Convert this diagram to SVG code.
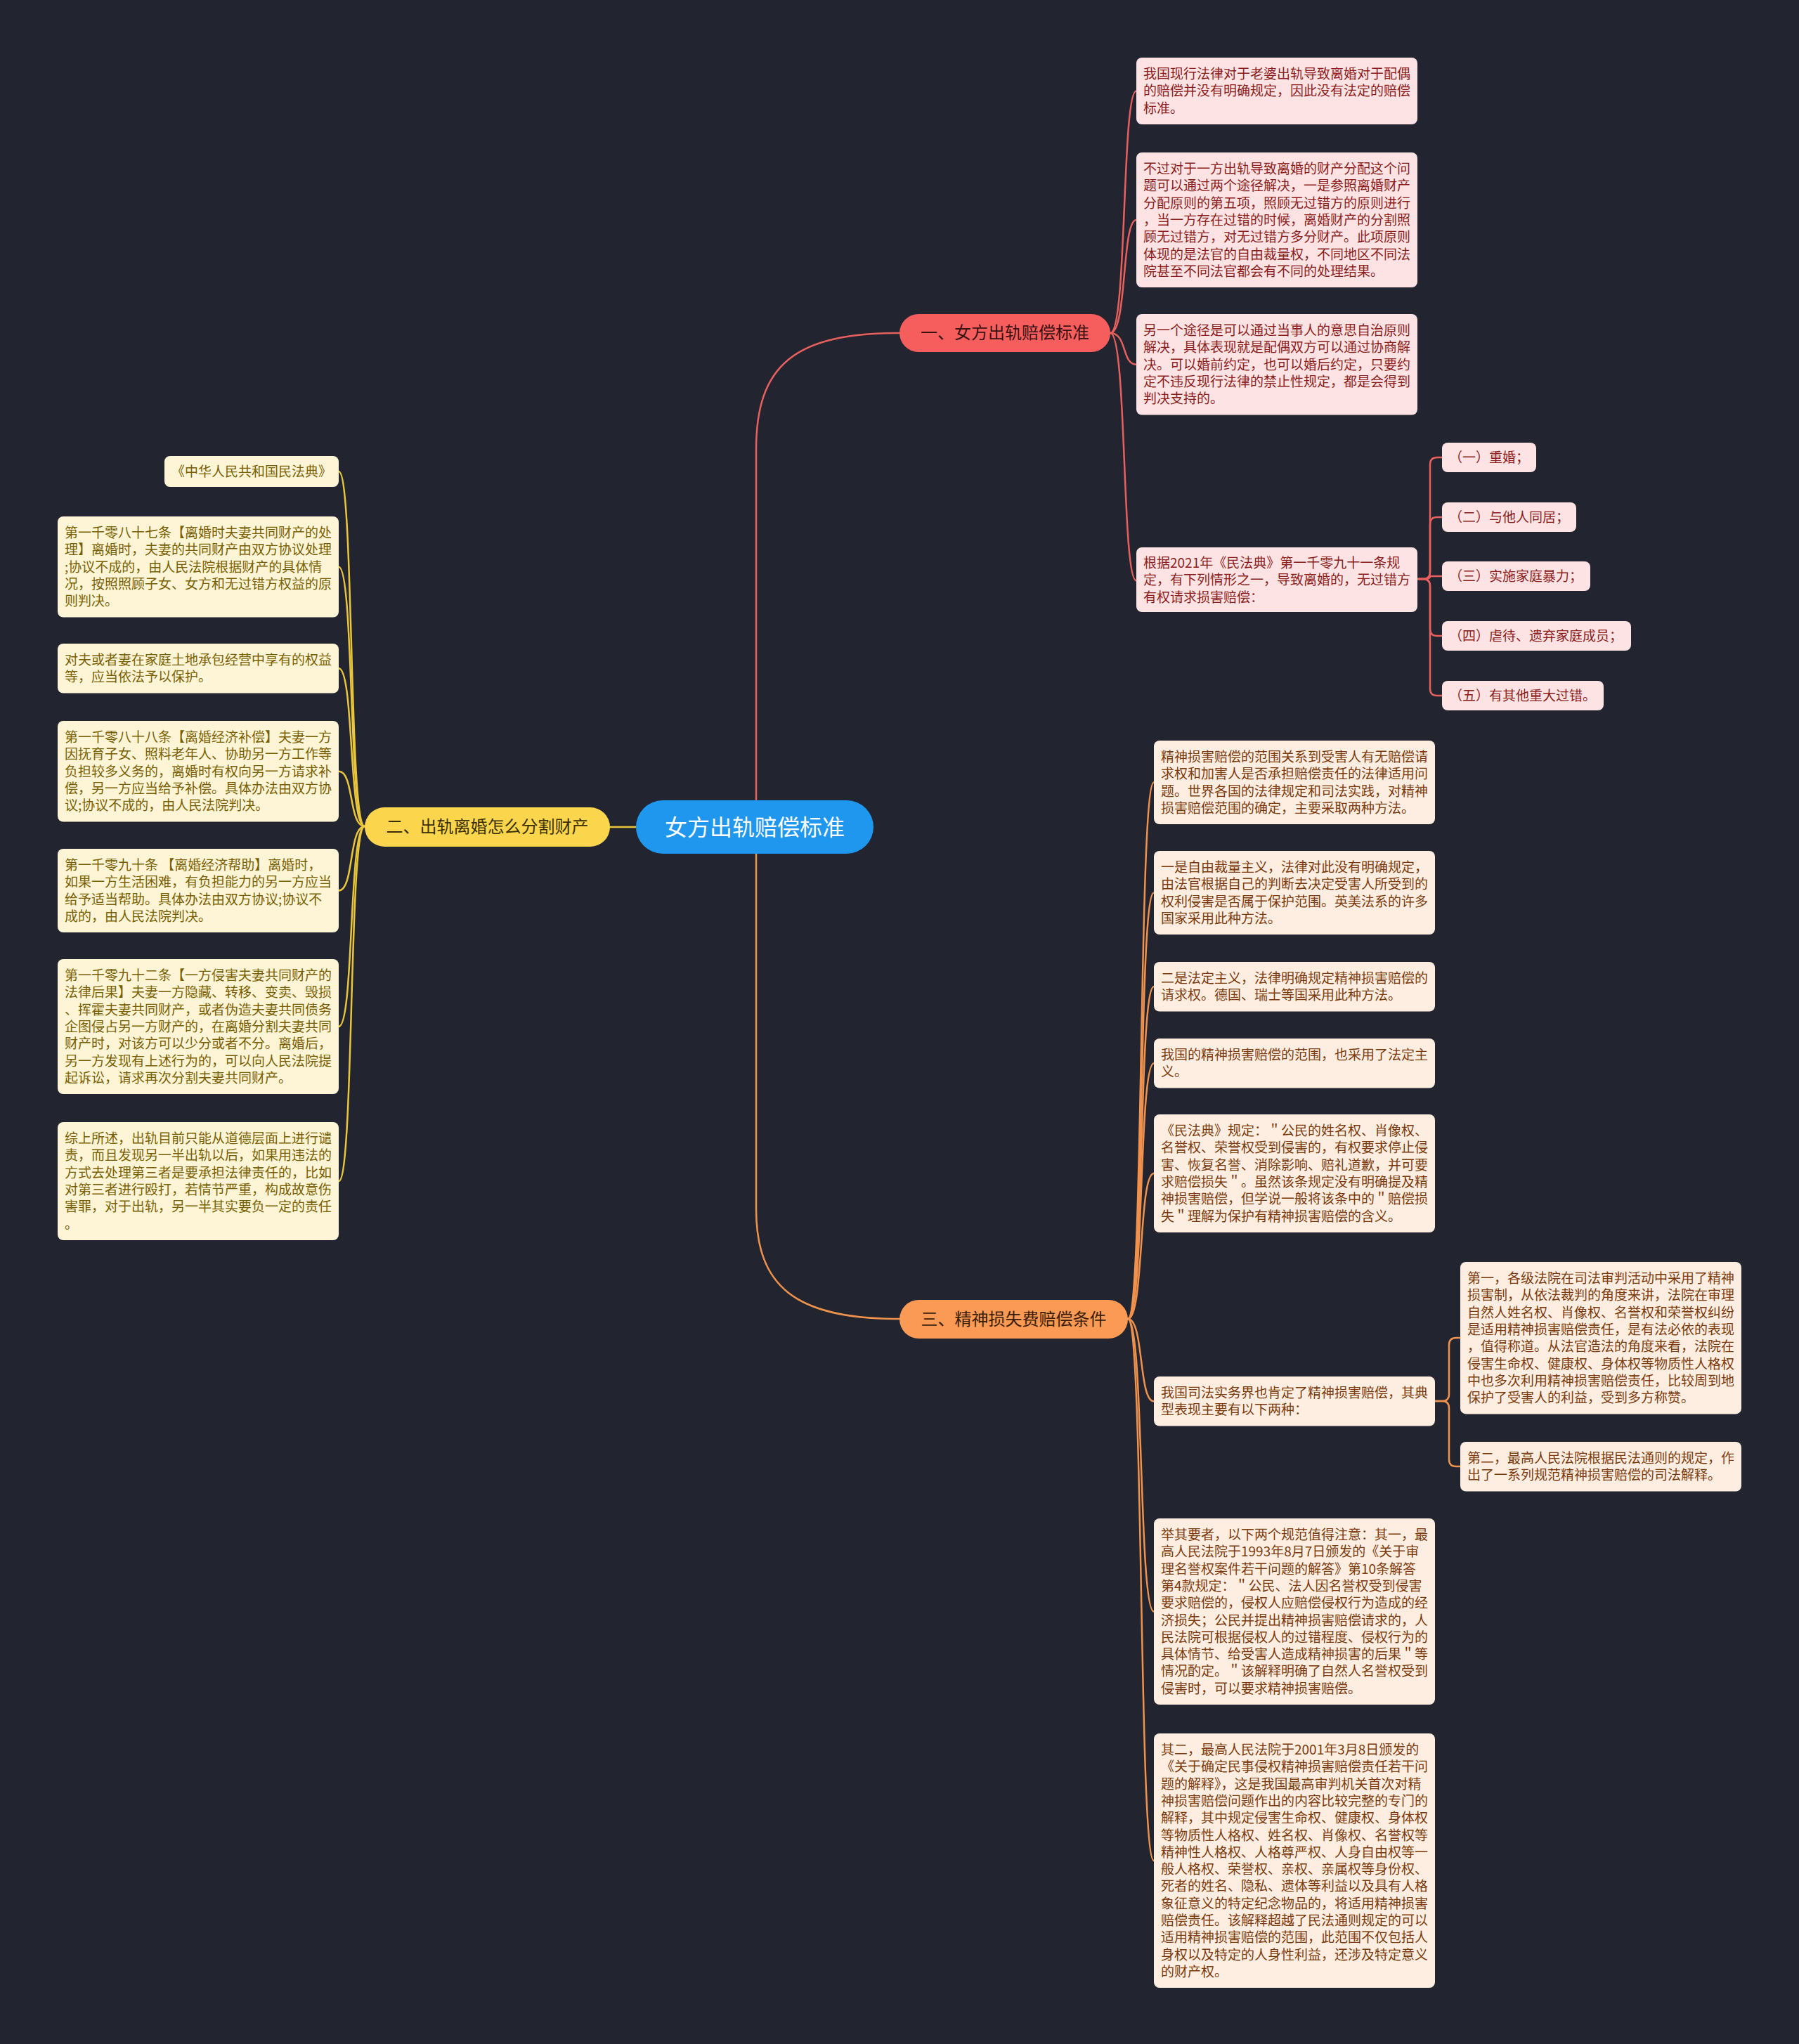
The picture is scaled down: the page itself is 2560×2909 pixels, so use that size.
<svg xmlns="http://www.w3.org/2000/svg" width="2560" height="2909" viewBox="0 0 2560 2909">
<style>
.t{font-family:"Noto Sans CJK SC","Noto Sans",sans-serif;font-size:19px}
.b{font-family:"Noto Sans CJK SC","Noto Sans",sans-serif;font-size:24px;text-anchor:middle}
.r1{fill:#fde3e3}.t1{fill:#8b1c1c}
.r2{fill:#fdf5d6}.t2{fill:#7a5f00}
.r3{fill:#feeee2}.t3{fill:#7b3a0b}
.c{fill:none;stroke-width:2.5;stroke-linecap:round}
.c1{stroke:#e6605e}.c2{stroke:#e9c53c}.c3{stroke:#f0924d}
</style>
<rect x="0" y="0" width="2560" height="2909" fill="#22252f"/>
<g id="connectors">
<path class="c c1" stroke-width="3" d="M1076,1140 L1076,640 C1076,520 1130,474 1280,474"/>
<path class="c c3" stroke-width="3" d="M1076,1215 L1076,1720 C1076,1830 1130,1877 1280,1877"/>
<path class="c c2" stroke-width="3" d="M905,1177 L868,1177"/>
<path class="c c1" d="M1580,474 C1604,474 1596,129.5 1617,129.5"/>
<path class="c c1" d="M1580,474 C1604,474 1596,313 1617,313"/>
<path class="c c1" d="M1580,474 C1604,474 1596,518.7 1617,518.7"/>
<path class="c c1" d="M1580,474 C1604,474 1596,826.5 1617,826.5"/>
<path class="c c1" d="M2017,824 H2025 Q2035,824 2035,814 V661 Q2035,651 2045,651 H2052"/>
<path class="c c1" d="M2017,824 H2025 Q2035,824 2035,814 V746 Q2035,736 2045,736 H2052"/>
<path class="c c1" d="M2017,824 H2027 Q2035,824 2035,820 H2052"/>
<path class="c c1" d="M2017,824 H2025 Q2035,824 2035,834 V895 Q2035,905 2045,905 H2052"/>
<path class="c c1" d="M2017,824 H2025 Q2035,824 2035,834 V980 Q2035,990 2045,990 H2052"/>
<path class="c c2" d="M519,1176 C496,1176 504,671 482,671"/>
<path class="c c2" d="M519,1176 C496,1176 504,806.7 482,806.7"/>
<path class="c c2" d="M519,1176 C496,1176 504,951.3 482,951.3"/>
<path class="c c2" d="M519,1176 C496,1176 504,1097.7 482,1097.7"/>
<path class="c c2" d="M519,1176 C496,1176 504,1267.5 482,1267.5"/>
<path class="c c2" d="M519,1176 C496,1176 504,1461 482,1461"/>
<path class="c c2" d="M519,1176 C496,1176 504,1681 482,1681"/>
<path class="c c3" d="M1605,1877 C1628,1877 1620,1113.5 1642,1113.5"/>
<path class="c c3" d="M1605,1877 C1628,1877 1620,1270.5 1642,1270.5"/>
<path class="c c3" d="M1605,1877 C1628,1877 1620,1404.3 1642,1404.3"/>
<path class="c c3" d="M1605,1877 C1628,1877 1620,1513.3 1642,1513.3"/>
<path class="c c3" d="M1605,1877 C1628,1877 1620,1670 1642,1670"/>
<path class="c c3" d="M1605,1877 C1628,1877 1620,1994.3 1642,1994.3"/>
<path class="c c3" d="M1605,1877 C1628,1877 1620,2293.5 1642,2293.5"/>
<path class="c c3" d="M1605,1877 C1628,1877 1620,2648 1642,2648"/>
<path class="c c3" d="M2042,1994 H2052 Q2062,1994 2062,1984 V1914 Q2062,1904 2072,1904 H2078"/>
<path class="c c3" d="M2042,1994 H2052 Q2062,1994 2062,2004 V2077 Q2062,2087 2072,2087 H2078"/>
</g>
<g id="center">
<rect x="905" y="1139" width="338" height="76" rx="38" fill="#1f97ee"/>
<text x="1074" y="1189" class="b" style="font-size:32px" fill="#ffffff">女方出轨赔偿标准</text>
</g>
<g id="branch1">
<rect x="1280" y="447" width="300" height="54" rx="27" fill="#f65e5e"/>
<text x="1430" y="482" class="b" fill="#3a1212">一、女方出轨赔偿标准</text>
</g>
<g id="branch2">
<rect x="519" y="1149" width="349" height="56" rx="28" fill="#fbd64c"/>
<text x="693.5" y="1185" class="b" fill="#3a2f00">二、出轨离婚怎么分割财产</text>
</g>
<g id="branch3">
<rect x="1280" y="1850" width="325" height="55" rx="27.5" fill="#fa9a55"/>
<text x="1442.5" y="1886" class="b" fill="#3b1d06">三、精神损失费赔偿条件</text>
</g>
<g id="b1-leaf1"><rect class="r1" x="1617" y="82" width="400" height="95" rx="8"/>
<text class="t t1" x="1627" y="112"><tspan x="1627">我国现行法律对于老婆出轨导致离婚对于配偶</tspan><tspan x="1627" dy="24.3">的赔偿并没有明确规定，因此没有法定的赔偿</tspan><tspan x="1627" dy="24.3">标准。</tspan></text></g>
<g id="b1-leaf2"><rect class="r1" x="1617" y="217" width="400" height="192" rx="8"/>
<text class="t t1" x="1627" y="247"><tspan x="1627">不过对于一方出轨导致离婚的财产分配这个问</tspan><tspan x="1627" dy="24.3">题可以通过两个途径解决，一是参照离婚财产</tspan><tspan x="1627" dy="24.3">分配原则的第五项，照顾无过错方的原则进行</tspan><tspan x="1627" dy="24.3">，当一方存在过错的时候，离婚财产的分割照</tspan><tspan x="1627" dy="24.3">顾无过错方，对无过错方多分财产。此项原则</tspan><tspan x="1627" dy="24.3">体现的是法官的自由裁量权，不同地区不同法</tspan><tspan x="1627" dy="24.3">院甚至不同法官都会有不同的处理结果。</tspan></text></g>
<g id="b1-leaf3"><rect class="r1" x="1617" y="447" width="400" height="143.5" rx="8"/>
<text class="t t1" x="1627" y="477"><tspan x="1627">另一个途径是可以通过当事人的意思自治原则</tspan><tspan x="1627" dy="24.3">解决，具体表现就是配偶双方可以通过协商解</tspan><tspan x="1627" dy="24.3">决。可以婚前约定，也可以婚后约定，只要约</tspan><tspan x="1627" dy="24.3">定不违反现行法律的禁止性规定，都是会得到</tspan><tspan x="1627" dy="24.3">判决支持的。</tspan></text></g>
<g id="b1-leaf4"><rect class="r1" x="1617" y="779" width="400" height="92" rx="8"/>
<text class="t t1" x="1627" y="808"><tspan x="1627">根据2021年《民法典》第一千零九十一条规</tspan><tspan x="1627" dy="24.3">定，有下列情形之一，导致离婚的，无过错方</tspan><tspan x="1627" dy="24.3">有权请求损害赔偿：</tspan></text></g>
<g id="b1-sub1"><rect class="r1" x="2052" y="630" width="134" height="42" rx="8"/><text class="t t1" x="2062" y="658">（一）重婚；</text></g>
<g id="b1-sub2"><rect class="r1" x="2052" y="715" width="191" height="42" rx="8"/><text class="t t1" x="2062" y="743">（二）与他人同居；</text></g>
<g id="b1-sub3"><rect class="r1" x="2052" y="799" width="211" height="42" rx="8"/><text class="t t1" x="2062" y="827">（三）实施家庭暴力；</text></g>
<g id="b1-sub4"><rect class="r1" x="2052" y="884" width="269" height="42" rx="8"/><text class="t t1" x="2062" y="912">（四）虐待、遗弃家庭成员；</text></g>
<g id="b1-sub5"><rect class="r1" x="2052" y="969" width="230" height="42" rx="8"/><text class="t t1" x="2062" y="997">（五）有其他重大过错。</text></g>
<g id="b2-leaf1"><rect class="r2" x="234" y="649" width="248" height="44" rx="8"/><text class="t t2" x="244" y="678">《中华人民共和国民法典》</text></g>
<g id="b2-leaf2"><rect class="r2" x="82" y="735" width="400" height="143.5" rx="8"/>
<text class="t t2" x="92" y="765"><tspan x="92">第一千零八十七条【离婚时夫妻共同财产的处</tspan><tspan x="92" dy="24.3">理】离婚时，夫妻的共同财产由双方协议处理</tspan><tspan x="92" dy="24.3">;协议不成的，由人民法院根据财产的具体情</tspan><tspan x="92" dy="24.3">况，按照照顾子女、女方和无过错方权益的原</tspan><tspan x="92" dy="24.3">则判决。</tspan></text></g>
<g id="b2-leaf3"><rect class="r2" x="82" y="916" width="400" height="70.6" rx="8"/>
<text class="t t2" x="92" y="946"><tspan x="92">对夫或者妻在家庭土地承包经营中享有的权益</tspan><tspan x="92" dy="24.3">等，应当依法予以保护。</tspan></text></g>
<g id="b2-leaf4"><rect class="r2" x="82" y="1026" width="400" height="143.5" rx="8"/>
<text class="t t2" x="92" y="1056"><tspan x="92">第一千零八十八条【离婚经济补偿】夫妻一方</tspan><tspan x="92" dy="24.3">因抚育子女、照料老年人、协助另一方工作等</tspan><tspan x="92" dy="24.3">负担较多义务的，离婚时有权向另一方请求补</tspan><tspan x="92" dy="24.3">偿，另一方应当给予补偿。具体办法由双方协</tspan><tspan x="92" dy="24.3">议;协议不成的，由人民法院判决。</tspan></text></g>
<g id="b2-leaf5"><rect class="r2" x="82" y="1208" width="400" height="119" rx="8"/>
<text class="t t2" x="92" y="1238"><tspan x="92">第一千零九十条 【离婚经济帮助】离婚时，</tspan><tspan x="92" dy="24.3">如果一方生活困难，有负担能力的另一方应当</tspan><tspan x="92" dy="24.3">给予适当帮助。具体办法由双方协议;协议不</tspan><tspan x="92" dy="24.3">成的，由人民法院判决。</tspan></text></g>
<g id="b2-leaf6"><rect class="r2" x="82" y="1365" width="400" height="192" rx="8"/>
<text class="t t2" x="92" y="1395"><tspan x="92">第一千零九十二条【一方侵害夫妻共同财产的</tspan><tspan x="92" dy="24.3">法律后果】夫妻一方隐藏、转移、变卖、毁损</tspan><tspan x="92" dy="24.3">、挥霍夫妻共同财产，或者伪造夫妻共同债务</tspan><tspan x="92" dy="24.3">企图侵占另一方财产的，在离婚分割夫妻共同</tspan><tspan x="92" dy="24.3">财产时，对该方可以少分或者不分。离婚后，</tspan><tspan x="92" dy="24.3">另一方发现有上述行为的，可以向人民法院提</tspan><tspan x="92" dy="24.3">起诉讼，请求再次分割夫妻共同财产。</tspan></text></g>
<g id="b2-leaf7"><rect class="r2" x="82" y="1597" width="400" height="168" rx="8"/>
<text class="t t2" x="92" y="1627"><tspan x="92">综上所述，出轨目前只能从道德层面上进行谴</tspan><tspan x="92" dy="24.3">责，而且发现另一半出轨以后，如果用违法的</tspan><tspan x="92" dy="24.3">方式去处理第三者是要承担法律责任的，比如</tspan><tspan x="92" dy="24.3">对第三者进行殴打，若情节严重，构成故意伤</tspan><tspan x="92" dy="24.3">害罪，对于出轨，另一半其实要负一定的责任</tspan><tspan x="92" dy="24.3">。</tspan></text></g>
<g id="b3-leaf1"><rect class="r3" x="1642" y="1054" width="400" height="119" rx="8"/>
<text class="t t3" x="1652" y="1084"><tspan x="1652">精神损害赔偿的范围关系到受害人有无赔偿请</tspan><tspan x="1652" dy="24.3">求权和加害人是否承担赔偿责任的法律适用问</tspan><tspan x="1652" dy="24.3">题。世界各国的法律规定和司法实践，对精神</tspan><tspan x="1652" dy="24.3">损害赔偿范围的确定，主要采取两种方法。</tspan></text></g>
<g id="b3-leaf2"><rect class="r3" x="1642" y="1211" width="400" height="119" rx="8"/>
<text class="t t3" x="1652" y="1241"><tspan x="1652">一是自由裁量主义，法律对此没有明确规定，</tspan><tspan x="1652" dy="24.3">由法官根据自己的判断去决定受害人所受到的</tspan><tspan x="1652" dy="24.3">权利侵害是否属于保护范围。英美法系的许多</tspan><tspan x="1652" dy="24.3">国家采用此种方法。</tspan></text></g>
<g id="b3-leaf3"><rect class="r3" x="1642" y="1369" width="400" height="70.6" rx="8"/>
<text class="t t3" x="1652" y="1399"><tspan x="1652">二是法定主义，法律明确规定精神损害赔偿的</tspan><tspan x="1652" dy="24.3">请求权。德国、瑞士等国采用此种方法。</tspan></text></g>
<g id="b3-leaf4"><rect class="r3" x="1642" y="1478" width="400" height="70.6" rx="8"/>
<text class="t t3" x="1652" y="1508"><tspan x="1652">我国的精神损害赔偿的范围，也采用了法定主</tspan><tspan x="1652" dy="24.3">义。</tspan></text></g>
<g id="b3-leaf5"><rect class="r3" x="1642" y="1586" width="400" height="168" rx="8"/>
<text class="t t3" x="1652" y="1616"><tspan x="1652">《民法典》规定：＂公民的姓名权、肖像权、</tspan><tspan x="1652" dy="24.3">名誉权、荣誉权受到侵害的，有权要求停止侵</tspan><tspan x="1652" dy="24.3">害、恢复名誉、消除影响、赔礼道歉，并可要</tspan><tspan x="1652" dy="24.3">求赔偿损失＂。虽然该条规定没有明确提及精</tspan><tspan x="1652" dy="24.3">神损害赔偿，但学说一般将该条中的＂赔偿损</tspan><tspan x="1652" dy="24.3">失＂理解为保护有精神损害赔偿的含义。</tspan></text></g>
<g id="b3-leaf6"><rect class="r3" x="1642" y="1959" width="400" height="70.6" rx="8"/>
<text class="t t3" x="1652" y="1989"><tspan x="1652">我国司法实务界也肯定了精神损害赔偿，其典</tspan><tspan x="1652" dy="24.3">型表现主要有以下两种：</tspan></text></g>
<g id="b3-sub1"><rect class="r3" x="2078" y="1796" width="400" height="216.4" rx="8"/>
<text class="t t3" x="2088" y="1826"><tspan x="2088">第一，各级法院在司法审判活动中采用了精神</tspan><tspan x="2088" dy="24.3">损害制，从依法裁判的角度来讲，法院在审理</tspan><tspan x="2088" dy="24.3">自然人姓名权、肖像权、名誉权和荣誉权纠纷</tspan><tspan x="2088" dy="24.3">是适用精神损害赔偿责任，是有法必依的表现</tspan><tspan x="2088" dy="24.3">，值得称道。从法官造法的角度来看，法院在</tspan><tspan x="2088" dy="24.3">侵害生命权、健康权、身体权等物质性人格权</tspan><tspan x="2088" dy="24.3">中也多次利用精神损害赔偿责任，比较周到地</tspan><tspan x="2088" dy="24.3">保护了受害人的利益，受到多方称赞。</tspan></text></g>
<g id="b3-sub2"><rect class="r3" x="2078" y="2052" width="400" height="70.6" rx="8"/>
<text class="t t3" x="2088" y="2082"><tspan x="2088">第二，最高人民法院根据民法通则的规定，作</tspan><tspan x="2088" dy="24.3">出了一系列规范精神损害赔偿的司法解释。</tspan></text></g>
<g id="b3-leaf7"><rect class="r3" x="1642" y="2161" width="400" height="265" rx="8"/>
<text class="t t3" x="1652" y="2191"><tspan x="1652">举其要者，以下两个规范值得注意：其一，最</tspan><tspan x="1652" dy="24.3">高人民法院于1993年8月7日颁发的《关于审</tspan><tspan x="1652" dy="24.3">理名誉权案件若干问题的解答》第10条解答</tspan><tspan x="1652" dy="24.3">第4款规定：＂公民、法人因名誉权受到侵害</tspan><tspan x="1652" dy="24.3">要求赔偿的，侵权人应赔偿侵权行为造成的经</tspan><tspan x="1652" dy="24.3">济损失；公民并提出精神损害赔偿请求的，人</tspan><tspan x="1652" dy="24.3">民法院可根据侵权人的过错程度、侵权行为的</tspan><tspan x="1652" dy="24.3">具体情节、给受害人造成精神损害的后果＂等</tspan><tspan x="1652" dy="24.3">情况酌定。＂该解释明确了自然人名誉权受到</tspan><tspan x="1652" dy="24.3">侵害时，可以要求精神损害赔偿。</tspan></text></g>
<g id="b3-leaf8"><rect class="r3" x="1642" y="2467" width="400" height="362" rx="8"/>
<text class="t t3" x="1652" y="2497"><tspan x="1652">其二，最高人民法院于2001年3月8日颁发的</tspan><tspan x="1652" dy="24.3">《关于确定民事侵权精神损害赔偿责任若干问</tspan><tspan x="1652" dy="24.3">题的解释》，这是我国最高审判机关首次对精</tspan><tspan x="1652" dy="24.3">神损害赔偿问题作出的内容比较完整的专门的</tspan><tspan x="1652" dy="24.3">解释，其中规定侵害生命权、健康权、身体权</tspan><tspan x="1652" dy="24.3">等物质性人格权、姓名权、肖像权、名誉权等</tspan><tspan x="1652" dy="24.3">精神性人格权、人格尊严权、人身自由权等一</tspan><tspan x="1652" dy="24.3">般人格权、荣誉权、亲权、亲属权等身份权、</tspan><tspan x="1652" dy="24.3">死者的姓名、隐私、遗体等利益以及具有人格</tspan><tspan x="1652" dy="24.3">象征意义的特定纪念物品的，将适用精神损害</tspan><tspan x="1652" dy="24.3">赔偿责任。该解释超越了民法通则规定的可以</tspan><tspan x="1652" dy="24.3">适用精神损害赔偿的范围，此范围不仅包括人</tspan><tspan x="1652" dy="24.3">身权以及特定的人身性利益，还涉及特定意义</tspan><tspan x="1652" dy="24.3">的财产权。</tspan></text></g>
</svg>
